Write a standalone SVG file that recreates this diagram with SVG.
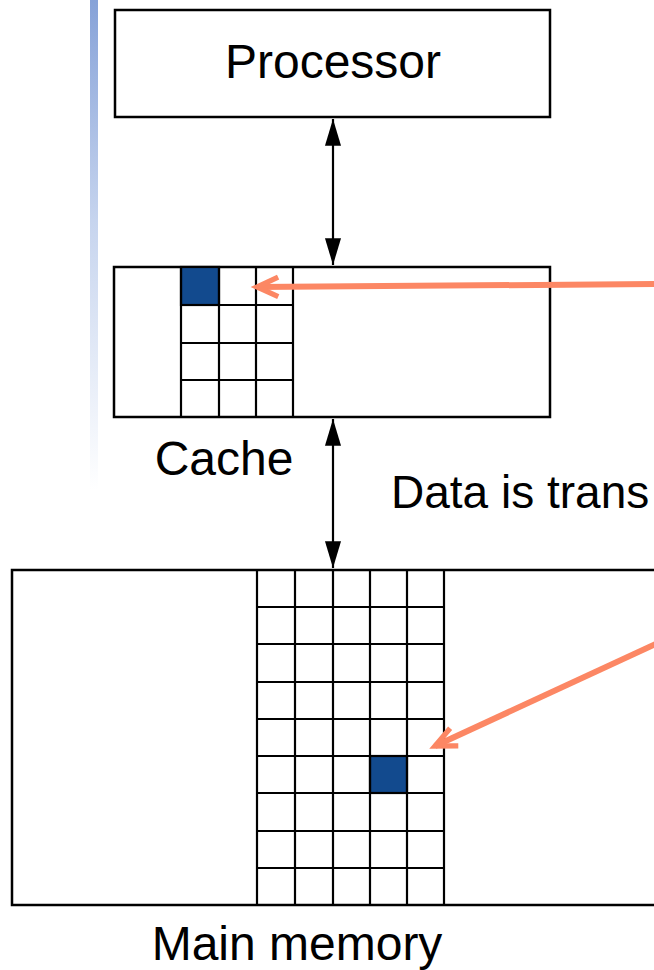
<svg xmlns="http://www.w3.org/2000/svg" width="654" height="970" viewBox="0 0 654 970">
  <style>
    .box { fill: #ffffff; stroke: #000000; stroke-width: 2.5; }
    .grid { fill: none; stroke: #000000; stroke-width: 2.2; }
    .block { fill: #124a8e; stroke: #000000; stroke-width: 2.2; }
    .label { font-family: "Liberation Sans", Arial, sans-serif; font-size: 48px; fill: #000000; }
    .note { font-size: 46px; }
    .bus { stroke: #000000; stroke-width: 2.2; fill: none; marker-start: url(#tri); marker-end: url(#tri); }
    .pointer { stroke: #fc8764; stroke-width: 6; fill: none; marker-end: url(#chev); }
  </style>
  <defs>
    <linearGradient id="sideBar" x1="0" y1="0" x2="0" y2="1">
      <stop offset="0" stop-color="#86a2d8"/>
      <stop offset="0.45" stop-color="#c6d4ee"/>
      <stop offset="1" stop-color="#ffffff"/>
    </linearGradient>
    <marker id="tri" markerUnits="userSpaceOnUse" markerWidth="30" markerHeight="20" viewBox="-26 -8 28 16" refX="0" refY="0" orient="auto-start-reverse" overflow="visible">
      <path d="M -25,-7.5 L 0,0 L -25,7.5 Z" fill="#000000"/>
    </marker>
    <marker id="chev" markerUnits="userSpaceOnUse" markerWidth="30" markerHeight="30" viewBox="-30 -15 34 30" refX="0" refY="0" orient="auto" overflow="visible">
      <path d="M -24,-11 L 0,0 L -24,11" fill="none" stroke="#fc8764" stroke-width="6" stroke-linejoin="miter"/>
    </marker>
  </defs>

  <!-- decorative side bar -->
  <rect x="90" y="0" width="8" height="490" fill="url(#sideBar)"/>

  <g id="processor">
    <rect class="box" x="115" y="10" width="435" height="107"/>
    <text class="label" x="333" y="78" text-anchor="middle">Processor</text>
  </g>

  <g id="cache">
    <rect class="box" x="114" y="267" width="436" height="150"/>
    <rect class="block" x="181" y="267" width="38" height="38"/>
    <path class="grid" d="M181,267 V417 M219,267 V417 M256,267 V417 M293,267 V417 M181,305 H293 M181,343 H293 M181,380 H293"/>
    <text class="label" x="224" y="475" text-anchor="middle">Cache</text>
  </g>

  <g id="main-memory">
    <rect class="box" x="12" y="570" width="660" height="335"/>
    <rect class="block" x="370" y="756" width="37" height="37"/>
    <path class="grid" d="M257,570 V905 M295,570 V905 M333,570 V905 M370,570 V905 M407,570 V905 M444,570 V905 M257,607 H444 M257,644 H444 M257,682 H444 M257,719 H444 M257,756 H444 M257,793 H444 M257,831 H444 M257,868 H444"/>
    <text class="label" x="297" y="960" text-anchor="middle">Main memory</text>
  </g>

  <g id="transfer-note">
    <text class="label note" x="391" y="508">Data is trans</text>
  </g>

  <g id="connectors">
    <line class="bus" x1="333" y1="119" x2="333" y2="265"/>
    <line class="bus" x1="333" y1="419" x2="333" y2="568"/>
    <line class="pointer" x1="660" y1="284" x2="257" y2="287"/>
    <line class="pointer" x1="660" y1="642" x2="435" y2="746"/>
  </g>
</svg>
